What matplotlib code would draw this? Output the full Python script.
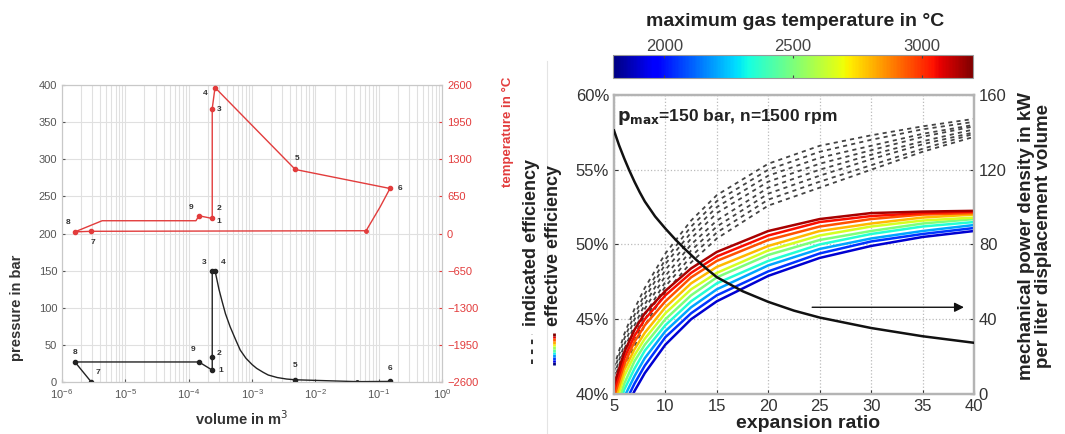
import matplotlib.pyplot as plt
import matplotlib.colors as mcolors
from matplotlib.cm import ScalarMappable
from matplotlib.lines import Line2D
from matplotlib.ticker import PercentFormatter, LogLocator, NullFormatter
import numpy as np

plt.rcParams['font.family'] = ['Liberation Sans', 'DejaVu Sans']

# ---------------- left: cycle in p-V and T-V ----------------
# state points 1..9
state_names = ['1', '2', '3', '4', '5', '6', '7', '8', '9']
state_vol = [2.35e-4, 2.35e-4, 2.35e-4, 2.6e-4, 4.8e-3, 0.15, 2.9e-6, 1.6e-6, 1.45e-4]
state_p = [16, 34, 150, 150, 3, 0.8, 0, 27, 27]
state_T = [265, 265, 2190, 2558, 1123, 790, 40, 30, 312]

# pressure path (bar)
p_path_vol = [2.9e-6, 1.6e-6, 1.45e-4, 2.35e-4, 2.35e-4, 2.35e-4, 2.6e-4,
              2.8e-4, 3.0e-4, 3.33e-4, 3.8e-4, 4.5e-4, 5.5e-4, 6.5e-4, 8e-4,
              1e-3, 1.18e-3, 1.5e-3, 1.8e-3, 2.5e-3, 3.5e-3, 4.8e-3,
              4.6e-2, 0.15]
p_path_p = [0, 27, 27, 16, 34, 150, 150,
            137, 125, 110, 92, 74.5, 57, 43, 32,
            23.5, 18.4, 13, 9.4, 6, 4, 3,
            0.5, 0.8]
p_extra_vol = [4.6e-2]
p_extra_p = [0.5]

# temperature path (degC)
t_path_vol = [1.6e-6, 4.3e-6, 1.3e-4, 1.45e-4, 2.35e-4, 2.35e-4, 2.6e-4,
              4.8e-3, 0.15, 0.105, 6.3e-2, 2.9e-6, 1.6e-6]
t_path_T = [30, 225, 225, 312, 265, 2190, 2558,
            1123, 790, 468, 50, 40, 30]
t_extra_vol = [6.3e-2]
t_extra_T = [50]

# ---------------- right: efficiency vs expansion ratio ----------------
exp_ratio = [5, 6, 7, 8, 10, 12.5, 15, 20, 25, 30, 35, 40]
max_temps = [1900, 2050, 2200, 2350, 2500, 2650, 2800, 2950, 3050, 3150]
eff_effective = [
    [36.5, 38.8, 40.2, 41.4, 43.3, 45.0, 46.2, 47.9, 49.1, 49.9, 50.5, 50.9],
    [37.0, 39.3, 40.7, 41.9, 43.8, 45.4, 46.6, 48.2, 49.4, 50.2, 50.7, 51.1],
    [37.5, 39.8, 41.2, 42.4, 44.2, 45.8, 47.0, 48.6, 49.7, 50.4, 50.9, 51.3],
    [38.0, 40.3, 41.7, 42.9, 44.6, 46.2, 47.4, 48.9, 50.0, 50.7, 51.2, 51.5],
    [38.5, 40.7, 42.2, 43.3, 45.0, 46.6, 47.8, 49.3, 50.3, 50.9, 51.4, 51.7],
    [39.0, 41.2, 42.6, 43.7, 45.4, 47.0, 48.1, 49.6, 50.6, 51.2, 51.6, 51.8],
    [39.4, 41.6, 43.0, 44.1, 45.8, 47.4, 48.5, 49.9, 50.9, 51.4, 51.8, 52.0],
    [39.8, 42.0, 43.5, 44.6, 46.2, 47.8, 48.9, 50.3, 51.2, 51.7, 52.0, 52.1],
    [40.2, 42.4, 43.9, 45.0, 46.6, 48.1, 49.2, 50.6, 51.5, 51.9, 52.1, 52.2],
    [40.6, 42.8, 44.3, 45.4, 46.9, 48.4, 49.5, 50.9, 51.7, 52.1, 52.2, 52.25],
]
eff_indicated = [
    [39.6, 41.7, 43.2, 44.6, 46.8, 48.8, 50.4, 52.6, 53.8, 55.0, 56.2, 57.2],
    [39.9, 42.0, 43.6, 45.0, 47.2, 49.2, 50.8, 53.0, 54.2, 55.3, 56.4, 57.4],
    [40.2, 42.4, 43.9, 45.3, 47.5, 49.6, 51.2, 53.4, 54.6, 55.7, 56.7, 57.5],
    [40.5, 42.7, 44.3, 45.7, 47.9, 50.0, 51.6, 53.8, 55.0, 56.0, 56.9, 57.7],
    [40.9, 43.0, 44.6, 46.0, 48.3, 50.4, 52.1, 54.2, 55.4, 56.3, 57.2, 57.9],
    [41.2, 43.3, 45.0, 46.4, 48.7, 50.8, 52.5, 54.6, 55.8, 56.6, 57.4, 58.0],
    [41.5, 43.7, 45.3, 46.7, 49.0, 51.2, 52.9, 55.0, 56.2, 57.0, 57.7, 58.2],
    [41.8, 44.0, 45.7, 47.1, 49.4, 51.6, 53.3, 55.4, 56.6, 57.3, 57.9, 58.4],
]
power_ratio = [5, 5.5, 6, 6.5, 7, 7.5, 8, 9, 10, 11, 12, 13, 14, 15,
               17.5, 20, 22.5, 25, 30, 35, 40]
power_density = [141, 133, 126, 119.5, 113.5, 108, 103, 95, 88.5, 82.5, 77,
                 71.8, 67, 62.5, 55, 49.3, 44.6, 40.9, 35.3, 30.9, 27.4]

RED = '#e23c3c'
GRID = '#e0e0e0'

fig = plt.figure(figsize=(10.65, 4.34), dpi=100)

# ---- left panel
ax = fig.add_axes([0.0582, 0.1198, 0.357, 0.684])
ax.set_xscale('log')
ax.set_xlim(1e-6, 1)
ax.set_ylim(0, 400)
ax.set_yticks(range(0, 401, 50))
ax.xaxis.set_minor_locator(LogLocator(base=10, subs=np.arange(2, 10)))
ax.xaxis.set_minor_formatter(NullFormatter())
ax.grid(which='both', axis='x', color=GRID, lw=0.8)
ax.grid(which='major', axis='y', color=GRID, lw=0.8)
ax.set_axisbelow(True)
ax.tick_params(which='both', direction='in', labelsize=8, colors='#555555',
               length=2)
ax.tick_params(which='minor', length=0)
for s in ax.spines.values():
    s.set_color('#c8c8c8')

ax.plot(p_path_vol, p_path_p, color='#222222', lw=1.0, zorder=3)
ax.plot(state_vol, state_p, 'o', color='#222222', ms=3, zorder=4)
ax.plot(p_extra_vol, p_extra_p, 'o', color='#222222', ms=2.5, zorder=4)

ax2 = ax.twinx()
ax2.set_ylim(-2600, 2600)
ax2.set_yticks(range(-2600, 2601, 650))
ax2.tick_params(direction='in', labelsize=8, colors=RED, length=2)
for s in ax2.spines.values():
    s.set_color('#c8c8c8')
ax2.plot(t_path_vol, t_path_T, color=RED, lw=1.0, zorder=3)
red_vol = [v for i, v in enumerate(state_vol) if state_names[i] != '2']
red_T = [t for i, t in enumerate(state_T) if state_names[i] != '2']
ax2.plot(red_vol, red_T, 'o', color=RED, ms=3, zorder=4)
ax2.plot(t_extra_vol, t_extra_T, 'o', color=RED, ms=2.5, zorder=4)

# state labels (offsets in points)
p_label_off = {'1': (6, 0), '2': (5, 2), '3': (-6, 6), '4': (6, 6), '5': (0, 10),
               '6': (0, 9), '7': (5, 7), '8': (0, 7), '9': (-4, 9)}
t_label_off = {'1': (5, -2), '2': (5, 7), '3': (5, -1), '4': (-7, -4), '5': (1, 8),
               '6': (7, 0), '7': (1, -8), '8': (-5, 7), '9': (-6, 6)}
for name, v, p, t in zip(state_names, state_vol, state_p, state_T):
    ax.annotate(name, (v, p), xytext=p_label_off[name], textcoords='offset points',
                ha='center', va='center', fontsize=6, fontweight='bold',
                color='#333333')
    ax2.annotate(name, (v, t), xytext=t_label_off[name], textcoords='offset points',
                 ha='center', va='center', fontsize=6, fontweight='bold',
                 color='#333333')

fig.text(17 / 1065, 1 - 308 / 434, 'pressure in bar', rotation=90, ha='center',
         va='center', fontsize=10.5, fontweight='bold', color='#333333')
fig.text(508 / 1065, 1 - 132 / 434, 'temperature in °C', rotation=90, ha='center',
         va='center', fontsize=9.5, fontweight='bold', color=RED)
fig.text(242 / 1065, 1 - 419 / 434, 'volume in m$^3$', ha='center', va='center',
         fontsize=10.5, fontweight='bold', color='#333333')

# separator
fig.add_artist(Line2D([547 / 1065] * 2, [0.0, 0.86], transform=fig.transFigure,
                      color='#e4e4e4', lw=0.8))

# ---- right panel
norm = mcolors.Normalize(vmin=1800, vmax=3200)
cmap = plt.get_cmap('jet')

axr = fig.add_axes([0.5765, 0.0922, 0.338, 0.689])
axr.set_xlim(5, 40)
axr.set_ylim(40, 60)
axr.set_xticks(range(5, 41, 5))
axr.set_yticks(range(40, 61, 5))
axr.yaxis.set_major_formatter(PercentFormatter(xmax=100, decimals=0))
axr.grid(True, color='#bbbbbb', ls=':', lw=0.9)
axr.tick_params(direction='in', labelsize=12, colors='#333333', length=3)
for s in axr.spines.values():
    s.set_color('#b4b4b4')
    s.set_linewidth(1.6)

for vals in eff_indicated:
    axr.plot(exp_ratio, vals, color='#444444', lw=1.3, dashes=(2.3, 2.3), zorder=2)
for temp, vals in zip(max_temps, eff_effective):
    axr.plot(exp_ratio, vals, color=cmap(norm(temp)), lw=1.8, zorder=3)

axr.text(0.008, 0.926, r'$\mathbf{p_{max}}$=150 bar, n=1500 rpm',
         transform=axr.transAxes, ha='left', va='center', fontsize=12.5,
         fontweight='bold', color='#222222')

axp = axr.twinx()
axp.set_ylim(0, 160)
axp.set_yticks(range(0, 161, 40))
axp.tick_params(direction='in', labelsize=12, colors='#333333', length=3)
for s in axp.spines.values():
    s.set_color('#b4b4b4')
    s.set_linewidth(1.6)
axp.plot(power_ratio, power_density, color='#111111', lw=1.8, zorder=4)
arrow_start = (24.0, 46.4)
arrow_end = (39.3, 46.4)
axp.annotate('', xy=arrow_end, xytext=arrow_start,
             arrowprops=dict(arrowstyle='-|>', color='#111111', lw=1.0,
                             mutation_scale=14))

fig.text(808 / 1065, 1 - 423 / 434, 'expansion ratio', ha='center', va='center',
         fontsize=14, fontweight='bold', color='#222222')
fig.text(1035 / 1065, 1 - 236 / 434,
         'mechanical power density in kW\nper liter displacement volume',
         rotation=90, ha='center', va='center', multialignment='center',
         fontsize=13.5, fontweight='bold', color='#222222', linespacing=1.05)

# legend drawn by hand, rotated
fig.text(532 / 1065, 1 - 326 / 434, 'indicated efficiency', rotation=90,
         ha='center', va='bottom', fontsize=13, fontweight='bold', color='#222222')
fig.text(554 / 1065, 1 - 326 / 434, 'effective efficiency', rotation=90,
         ha='center', va='bottom', fontsize=13, fontweight='bold', color='#222222')
fig.add_artist(Line2D([532 / 1065] * 2, [1 - 364 / 434, 1 - 334 / 434],
                      transform=fig.transFigure, color='#222222', lw=1.3,
                      dashes=(2.5, 3)))
legend_temps = np.linspace(1800, 3200, 12)
seg_y = np.linspace(1 - 365 / 434, 1 - 333 / 434, len(legend_temps) + 1)
for i, temp in enumerate(legend_temps):
    fig.add_artist(Line2D([554 / 1065] * 2, [seg_y[i], seg_y[i + 1]],
                          transform=fig.transFigure, color=cmap(norm(temp)),
                          lw=2.0, solid_capstyle='butt'))

# colorbar
cax = fig.add_axes([613 / 1065, 1 - 78 / 434, 360 / 1065, 23 / 434])
sm = ScalarMappable(norm=norm, cmap=cmap)
cb = fig.colorbar(sm, cax=cax, orientation='horizontal', ticks=[2000, 2500, 3000])
cax.xaxis.set_ticks_position('both')
cax.tick_params(direction='in', labelsize=12, colors='#444444', length=2, pad=0.5,
                labeltop=True, labelbottom=False)
cb.outline.set_edgecolor('#999999')
fig.text(795 / 1065, 1 - 22 / 434, 'maximum gas temperature in °C', ha='center',
         va='center', fontsize=14, fontweight='bold', color='#222222')

fig.savefig('out.png', dpi=100)
